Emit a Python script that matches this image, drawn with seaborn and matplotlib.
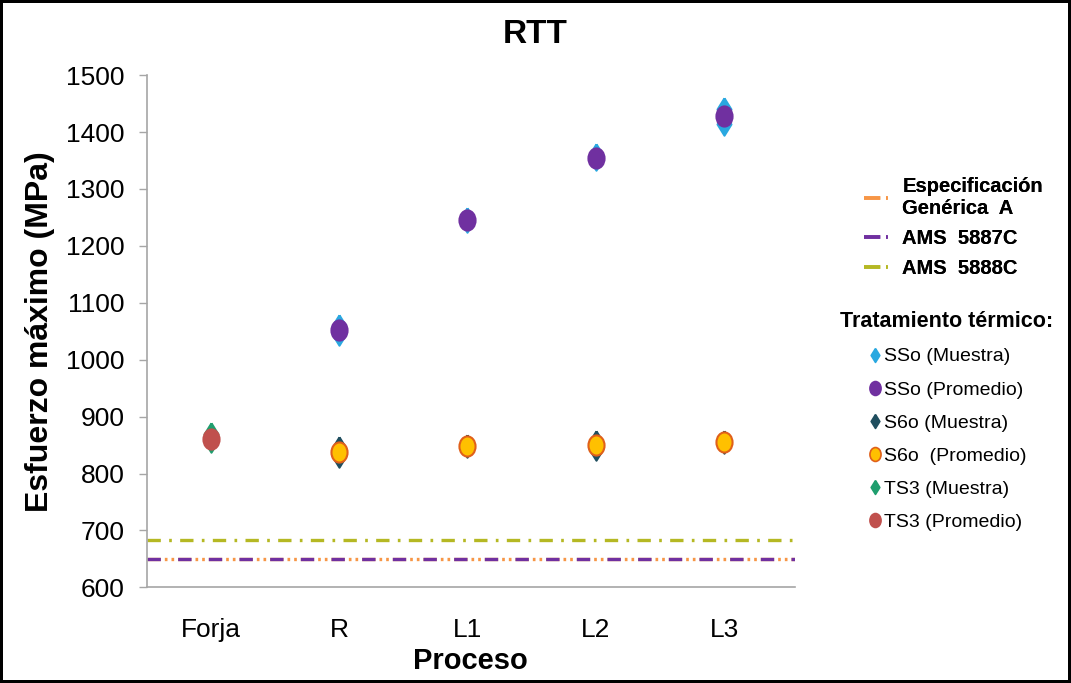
import matplotlib
matplotlib.use("Agg")
import matplotlib.pyplot as plt
import numpy as np
import pandas as pd
import seaborn as sns
from matplotlib.lines import Line2D
from matplotlib.path import Path
from matplotlib.transforms import Affine2D

PROCESOS: list[str] = ["Forja", "R", "L1", "L2", "L3"]

SSO_MUESTRA_PROCESO: list[str] = ["R", "R", "L1", "L1", "L2", "L2", "L3", "L3"]
SSO_MUESTRA_VALOR: list[float] = [1060, 1045, 1248, 1244, 1360, 1352, 1440, 1414]
SSO_PROMEDIO_PROCESO: list[str] = ["R", "L1", "L2", "L3"]
SSO_PROMEDIO_VALOR: list[float] = [1053, 1246, 1355, 1429]

S6O_MUESTRA_PROCESO: list[str] = ["R", "R", "L1", "L2", "L2", "L3"]
S6O_MUESTRA_VALOR: list[float] = [845, 830, 849, 856, 843, 856]
S6O_PROMEDIO_PROCESO: list[str] = ["R", "L1", "L2", "L3"]
S6O_PROMEDIO_VALOR: list[float] = [838, 849, 851, 855]

TS3_MUESTRA_PROCESO: list[str] = ["Forja", "Forja"]
TS3_MUESTRA_VALOR: list[float] = [870, 857]
TS3_PROMEDIO_PROCESO: list[str] = ["Forja"]
TS3_PROMEDIO_VALOR: list[float] = [861]

ESPECIFICACIONES: list[str] = ["Especificación\nGenérica  A", "AMS  5887C", "AMS  5888C"]
LIMITES: list[float] = [650, 650, 684]

# narrow markers, like the stretched picture
ELLIPSE = Affine2D().scale(0.8, 1.0).transform_path(Path.unit_circle())
DIAMOND = [(0, 1), (0.62, 0), (0, -1), (-0.62, 0), (0, 1)]


def to_frame(procesos: list[str], valores: list[float]) -> pd.DataFrame:
    return pd.DataFrame({"x": [PROCESOS.index(p) for p in procesos], "valor": valores})


sns.set_theme(style="white")
plt.rcParams["font.family"] = ["Liberation Sans", "DejaVu Sans"]
plt.rcParams["text.color"] = "black"
plt.rcParams["axes.labelcolor"] = "black"
plt.rcParams["xtick.color"] = "black"
plt.rcParams["ytick.color"] = "black"

fig = plt.figure(figsize=(10.71, 6.83), dpi=100)
fig.patch.set_edgecolor("black")
fig.patch.set_linewidth(3)
ax = fig.add_axes([0.137, 0.140, 0.605, 0.750])

# spec lines
ax.axhline(LIMITES[0], color="#f79646", linewidth=2.4, linestyle=(0, (4, 1.2, 0.8, 1.2, 0.8, 1.2)))
ax.axhline(LIMITES[1], color="#7030a0", linewidth=2.4, linestyle=(0, (4, 5.2)))
ax.axhline(LIMITES[2], color="#b5b823", linewidth=2.4, linestyle=(0, (4, 2.5, 0.8, 2.5)))

series = [
    (SSO_MUESTRA_PROCESO, SSO_MUESTRA_VALOR, DIAMOND, 260, "#29a8e0", "#29a8e0", "SSo (Muestra)"),
    (SSO_PROMEDIO_PROCESO, SSO_PROMEDIO_VALOR, ELLIPSE, 210, "#7030a0", "#7030a0", "SSo (Promedio)"),
    (S6O_MUESTRA_PROCESO, S6O_MUESTRA_VALOR, DIAMOND, 260, "#1f4e5f", "#1f4e5f", "S6o (Muestra)"),
    (S6O_PROMEDIO_PROCESO, S6O_PROMEDIO_VALOR, ELLIPSE, 210, "#ffc000", "#e0601a", "S6o  (Promedio)"),
    (TS3_MUESTRA_PROCESO, TS3_MUESTRA_VALOR, DIAMOND, 260, "#1f9e6e", "#1f9e6e", "TS3 (Muestra)"),
    (TS3_PROMEDIO_PROCESO, TS3_PROMEDIO_VALOR, ELLIPSE, 210, "#c0504d", "#c0504d", "TS3 (Promedio)"),
]

marker_handles = []
for procesos, valores, marker, size, face, edge, label in series:
    sns.scatterplot(
        data=to_frame(procesos, valores),
        x="x",
        y="valor",
        marker=marker,
        s=size,
        color=face,
        edgecolor=edge,
        linewidth=1.5,
        ax=ax,
        zorder=3,
    )
    marker_handles.append(
        Line2D([], [], linestyle="none", marker=marker, markersize=10,
               markerfacecolor=face, markeredgecolor=edge, markeredgewidth=1.2, label=label)
    )

ax.set_xlim(-0.5, 4.55)
ax.set_ylim(600, 1500)
ax.set_xticks(range(len(PROCESOS)))
ax.set_xticklabels(PROCESOS)
ax.set_yticks(np.arange(600, 1501, 100))
ax.tick_params(axis="y", labelsize=19, length=6, width=1, color="#a6a6a6", direction="out", left=True, pad=10)
ax.tick_params(axis="x", labelsize=19, length=0, pad=22)
for side in ["top", "right"]:
    ax.spines[side].set_visible(False)
for side in ["left", "bottom"]:
    ax.spines[side].set_color("#a6a6a6")
    ax.spines[side].set_linewidth(1.2)

ax.set_xlabel("Proceso", fontsize=21, fontweight="bold", labelpad=4)
ax.set_ylabel("Esfuerzo máximo (MPa)", fontsize=23, fontweight="bold", labelpad=8)
fig.text(0.5, 0.950, "RTT", ha="center", va="center", fontsize=24, fontweight="bold")

line_style = (0, (4.5, 1.6, 0.5, 10))
line_handles = [
    Line2D([], [], color="#f79646", linewidth=2.6, linestyle=line_style),
    Line2D([], [], color="#7030a0", linewidth=2.6, linestyle=line_style),
    Line2D([], [], color="#b5b823", linewidth=2.6, linestyle=line_style),
]
legend_lines = fig.legend(
    line_handles, ESPECIFICACIONES,
    loc="upper left", bbox_to_anchor=(0.79, 0.768),
    frameon=False, handlelength=1.7, handletextpad=0.2, labelspacing=0.55,
    prop={"weight": "bold", "size": 14.5},
)
fig.add_artist(legend_lines)

fig.legend(
    handles=marker_handles,
    loc="upper center", bbox_to_anchor=(0.884, 0.57),
    frameon=False, handlelength=0.8, handletextpad=0.1, labelspacing=0.8,
    title="Tratamiento térmico:", title_fontproperties={"weight": "bold", "size": 15.5},
    prop={"size": 14},
)

fig.savefig("out.png", dpi=100)
